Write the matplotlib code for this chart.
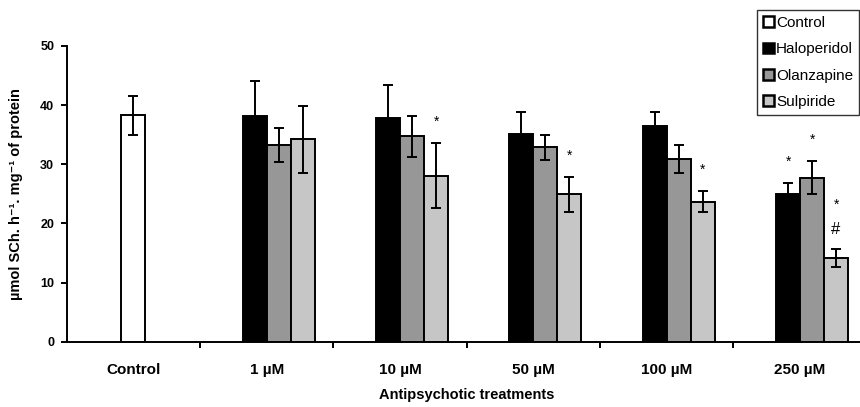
import numpy as np
import matplotlib.pyplot as plt
from matplotlib.patches import Patch

plt.rcParams['font.family'] = ['Liberation Sans', 'DejaVu Sans']

# data
groups = ['Control', '1 µM', '10 µM', '50 µM', '100 µM', '250 µM']
control_mean = 38.3
control_err = 3.3
halo_mean = [38.1, 37.9, 35.1, 36.5, 24.9]
halo_err = [6.0, 5.5, 3.7, 2.4, 1.9]
olanz_mean = [33.3, 34.7, 32.9, 30.9, 27.7]
olanz_err = [2.9, 3.5, 2.1, 2.4, 2.8]
sulp_mean = [34.2, 28.1, 24.9, 23.7, 14.2]
sulp_err = [5.7, 5.5, 3.0, 1.7, 1.5]
# significance marks: (dose index, series, text)
marks = [(1, 'sulp', '*'), (2, 'sulp', '*'), (3, 'sulp', '*'),
         (4, 'halo', '*'), (4, 'olanz', '*'), (4, 'sulp', '*#')]

colors = {'control': 'white', 'halo': 'black', 'olanz': '#979797', 'sulp': '#c6c6c6'}

fig = plt.figure(figsize=(8.6, 4.07), dpi=100)
ax = fig.add_axes([66.7 / 860, 65.3 / 407, 800 / 860, 295.7 / 407])

w = 0.18
x = np.arange(1, 6)
ekw = dict(ecolor='black', elinewidth=1.4, capsize=3.3, capthick=1.4)
ax.bar(0, control_mean, w, yerr=control_err, color=colors['control'],
       edgecolor='black', linewidth=1.4, error_kw=ekw)
ax.bar(x - w / 2, halo_mean, w, yerr=halo_err, color=colors['halo'],
       edgecolor='black', linewidth=1.4, error_kw=ekw)
ax.bar(x + w / 2, olanz_mean, w, yerr=olanz_err, color=colors['olanz'],
       edgecolor='black', linewidth=1.4, error_kw=ekw)
ax.bar(x + 3 * w / 2, sulp_mean, w, yerr=sulp_err, color=colors['sulp'],
       edgecolor='black', linewidth=1.4, error_kw=ekw)

series = {'halo': (-w / 2, halo_mean, halo_err),
          'olanz': (w / 2, olanz_mean, olanz_err),
          'sulp': (3 * w / 2, sulp_mean, sulp_err)}
for i, s, txt in marks:
    off, m, e = series[s]
    top = m[i] + e[i]
    if len(txt) > 1:
        ax.text(x[i] + off, top + 3.3, txt[1], ha='center', va='center',
                fontsize=12)
        ax.text(x[i] + off, top + 7.4, txt[0], ha='center', va='center', fontsize=10)
    else:
        ax.text(x[i] + off, top + 3.6, txt[0], ha='center', va='center', fontsize=10)

ax.set_xlim(-0.5, 5.5)
ax.set_ylim(0, 50)
ax.set_yticks(np.arange(0, 51, 10))
ax.set_xticks(range(6))
ax.set_xticklabels(groups, fontweight='bold', fontsize=11)
ax.set_xticks(np.arange(0.5, 5, 1), minor=True)
ax.tick_params(axis='x', which='major', length=0, pad=15)
ax.tick_params(axis='x', which='minor', length=4, width=1.4, direction='out')
ax.tick_params(axis='y', length=4, width=1.4, direction='out', pad=5)
for lab in ax.get_yticklabels():
    lab.set_fontweight('bold')
    lab.set_fontsize(9)
for sp in ['top', 'right']:
    ax.spines[sp].set_visible(False)
for sp in ['left', 'bottom']:
    ax.spines[sp].set_linewidth(1.4)

ax.set_xlabel('Antipsychotic treatments', fontweight='bold', fontsize=10.5, labelpad=8)
ax.set_ylabel('µmol SCh. h⁻¹. mg⁻¹ of protein', fontweight='bold', fontsize=10.5, labelpad=12)

handles = [Patch(facecolor=colors[k], edgecolor='black', linewidth=1.8)
           for k in ['control', 'halo', 'olanz', 'sulp']]
leg = fig.legend(handles, ['Control', 'Haloperidol', 'Olanzapine', 'Sulpiride'],
                 loc='upper left', bbox_to_anchor=(757 / 860, 1 - 10 / 407),
                 fontsize=11, frameon=True, fancybox=False, handlelength=0.7,
                 handleheight=0.7, handletextpad=0.15, labelspacing=0.8,
                 borderpad=0.4, borderaxespad=0)
leg.get_frame().set_edgecolor('black')
leg.get_frame().set_linewidth(1.0)

fig.savefig('out.png', dpi=100)
